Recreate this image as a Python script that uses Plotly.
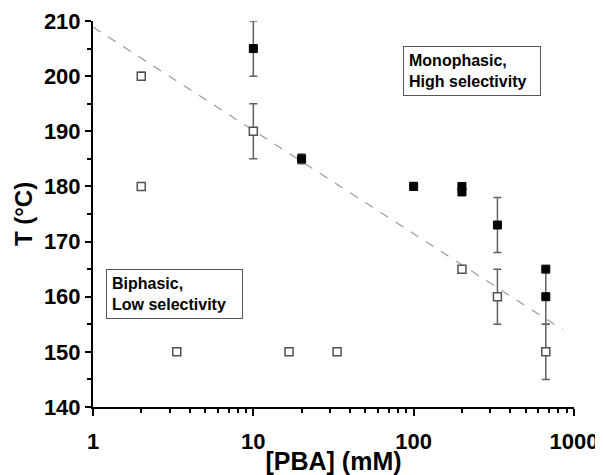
import plotly.graph_objects as go
import numpy as np

# Monophasic / high selectivity (filled squares)
mono_x = [10, 20, 100, 200, 200, 333, 667, 667]
mono_y = [205, 185, 180, 180, 179, 173, 165, 160]
mono_err = [5, 0.9, 0.7, 0.6, 0.6, 5, 0, 5]

# Biphasic / low selectivity (open squares)
bi_x = [2, 2, 3.33, 10, 16.7, 33.3, 200, 333, 667]
bi_y = [200, 180, 150, 190, 150, 150, 165, 160, 150]
bi_err = [0.7, 0, 0, 5, 0, 0, 0, 5, 5]

# Boundary (dashed) line endpoints
line_x = [1, 850]
line_intercept = 208.9
line_slope = -18.74

fig = go.Figure()

lx = np.array(line_x, dtype=float)
fig.add_trace(go.Scatter(
    x=lx, y=line_intercept + line_slope * np.log10(lx),
    mode="lines", line=dict(color="#9a9a9a", width=1.2, dash="dash"),
    showlegend=False, hoverinfo="skip"))

fig.add_trace(go.Scatter(
    x=bi_x, y=bi_y, mode="markers",
    marker=dict(symbol="square", size=8, color="white",
                line=dict(color="#505050", width=1.5)),
    error_y=dict(type="data", array=bi_err, visible=True,
                 color="#606060", thickness=1.5, width=4),
    showlegend=False))

fig.add_trace(go.Scatter(
    x=mono_x, y=mono_y, mode="markers",
    marker=dict(symbol="square", size=8, color="black",
                line=dict(color="black", width=1)),
    error_y=dict(type="data", array=mono_err, visible=True,
                 color="#606060", thickness=1.5, width=4),
    showlegend=False))

FAM = "Liberation Sans, Arial, sans-serif"
fnt = dict(family=FAM, color="black")

fig.add_annotation(
    x=1.931, y=205.4, xref="x", yref="y", xanchor="left", yanchor="top",
    text="Monophasic,<br>High selectivity", showarrow=False, align="left",
    width=126,
    font=dict(size=16, weight="bold", **fnt),
    bordercolor="#555555", borderwidth=1, borderpad=5, bgcolor="white")

fig.add_annotation(
    x=0.084, y=165.0, xref="x", yref="y", xanchor="left", yanchor="top",
    text="Biphasic,<br>Low selectivity", showarrow=False, align="left",
    width=125,
    font=dict(size=16, weight="bold", **fnt),
    bordercolor="#555555", borderwidth=1, borderpad=5, bgcolor="white")

fig.update_xaxes(
    type="log", range=[0, 3], tickvals=[1, 10, 100, 1000],
    ticktext=["1", "10", "100", "1000"],
    showline=True, linecolor="black", linewidth=2,
    ticks="outside", ticklen=7, tickwidth=2, tickcolor="black",
    minor=dict(ticks="outside", ticklen=4, tickwidth=2, tickcolor="black",
               dtick="D1", showgrid=False),
    showgrid=False, zeroline=False, automargin=False,
    ticklabelstandoff=7,
    tickfont=dict(size=22, weight="bold", **fnt),
    title=dict(text="[PBA] (mM)", font=dict(size=25, weight="bold", **fnt),
               standoff=6))

fig.update_yaxes(
    range=[140, 210], dtick=10, showline=True, linecolor="black", linewidth=2,
    ticks="outside", ticklen=6, tickwidth=2, tickcolor="black",
    minor=dict(ticks="outside", ticklen=4, tickwidth=2, tickcolor="black",
               dtick=5, showgrid=False),
    showgrid=False, zeroline=False, automargin=False,
    tickfont=dict(size=22, weight="bold", **fnt),
    title=dict(text="T (°C)", font=dict(size=24, weight="bold", **fnt),
               standoff=4))

fig.update_layout(
    width=595, height=467,
    margin=dict(l=85, r=29, t=13, b=68),
    plot_bgcolor="white", paper_bgcolor="white")

fig.write_html("out.html")
